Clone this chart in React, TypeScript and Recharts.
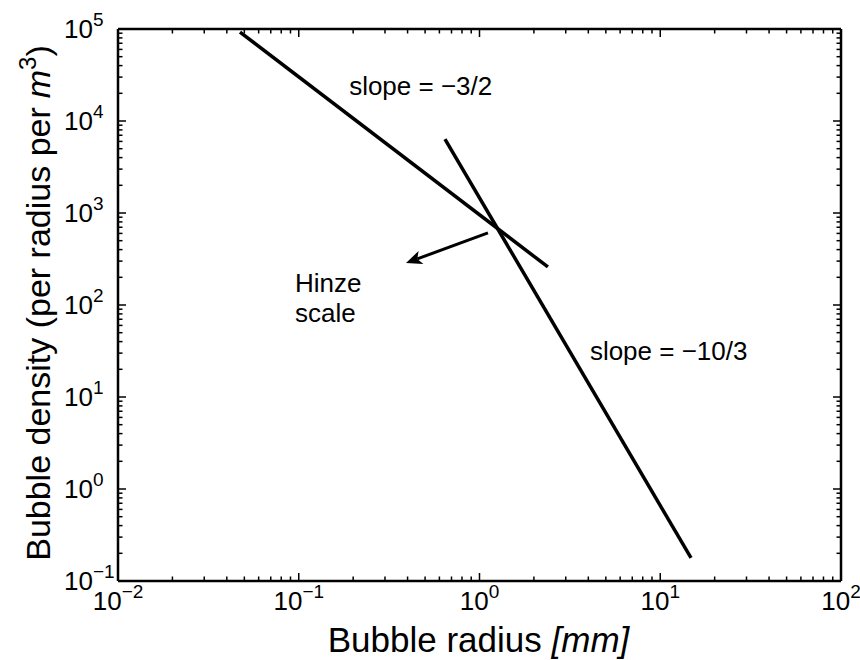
import React from 'react';
import { ComposedChart, Line, XAxis, YAxis, ReferenceLine, ReferenceDot } from 'recharts';

const FONT = '"Liberation Sans", Arial, Helvetica, sans-serif';

// Decade ticks and the exponents printed on them
const xDecades = [0.01, 0.1, 1, 10, 100];
const xExponents = ['−2', '−1', '0', '1', '2'];
const yDecades = [0.1, 1, 10, 100, 1000, 10000, 100000];
const yExponents = ['−1', '0', '1', '2', '3', '4', '5'];

// Power-law fit with slope -3/2 (bubble radius in mm, density per radius per m^3)
const smallRadius = [0.0473, 2.39];
const smallDensity = [92700, 259];

// Power-law fit with slope -10/3
const largeRadius = [0.644, 14.8];
const largeDensity = [6370, 0.178];

// Hinze scale arrow: tail near the crossing, head pointing to smaller radii
const hinzeArrowRadius = [1.114, 0.392];
const hinzeArrowDensity = [607, 286];

// Text annotations: [radius, density] anchor of the first baseline
const slopeSmallLabel = { text: 'slope = −3/2', radius: 0.19, density: 19200 };
const slopeLargeLabel = { text: 'slope = −10/3', radius: 4.08, density: 25.2 };
const hinzeLabel = { lines: ['Hinze', 'scale'], radius: 0.0953, density: 138 };

const smallFit = smallRadius.map((r, i) => ({ radius: r, density: smallDensity[i] }));
const largeFit = largeRadius.map((r, i) => ({ radius: r, density: largeDensity[i] }));

const minorTicks = (decades: number[]) => {
  const out: number[] = [];
  decades.forEach((d, i) => {
    out.push(d);
    if (i < decades.length - 1) for (let k = 2; k <= 9; k++) out.push(+(d * k).toPrecision(6));
  });
  return out;
};
const xTicks = minorTicks(xDecades);
const yTicks = minorTicks(yDecades);

const isDecade = (v: number) => Math.abs(Math.log10(v) - Math.round(Math.log10(v))) < 1e-6;
const expOf = (v: number, decades: number[], exps: string[]) => {
  const idx = decades.findIndex((d) => Math.abs(d - v) / d < 1e-6);
  return idx >= 0 ? exps[idx] : '';
};

const MAJOR = 8;
const MINOR = 4.5;
const TICK_W = 1.5;

const BottomTick = (props: any) => {
  const { x, y, payload } = props;
  const v = payload.value;
  const major = isDecade(v);
  return (
    <g>
      <line x1={x} x2={x} y1={y} y2={y - (major ? MAJOR : MINOR)} stroke="#000" strokeWidth={TICK_W} />
      {major && (
        <text x={x} y={y + 29} textAnchor="middle" fontFamily={FONT} fontSize={26} fill="#000">
          10
          <tspan dy={-12} fontSize={19}>{expOf(v, xDecades, xExponents)}</tspan>
        </text>
      )}
    </g>
  );
};

const TopTick = (props: any) => {
  const { x, y, payload } = props;
  const major = isDecade(payload.value);
  return <line x1={x} x2={x} y1={y} y2={y + (major ? MAJOR : MINOR)} stroke="#000" strokeWidth={TICK_W} />;
};

const LeftTick = (props: any) => {
  const { x, y, payload } = props;
  const v = payload.value;
  const major = isDecade(v);
  return (
    <g>
      <line x1={x} x2={x + (major ? MAJOR : MINOR)} y1={y} y2={y} stroke="#000" strokeWidth={TICK_W} />
      {major && (
        <g fontFamily={FONT} fill="#000">
          <text x={x - 25} y={y + 9} textAnchor="end" fontSize={26}>10</text>
          <text x={x - 25} y={y - 3} textAnchor="start" fontSize={19}>{expOf(v, yDecades, yExponents)}</text>
        </g>
      )}
    </g>
  );
};

const RightTick = (props: any) => {
  const { x, y, payload } = props;
  const major = isDecade(payload.value);
  return <line x1={x} x2={x - (major ? MAJOR : MINOR)} y1={y} y2={y} stroke="#000" strokeWidth={TICK_W} />;
};

const XTitle = (props: any) => {
  const vb = props.viewBox || {};
  const cx = vb.x + vb.width / 2;
  return (
    <text x={cx - 1} y={vb.y + 71} textAnchor="middle" fontFamily={FONT} fontSize={35} fill="#000">
      Bubble radius <tspan fontStyle="italic">[mm]</tspan>
    </text>
  );
};

const YTitle = (props: any) => {
  const vb = props.viewBox || {};
  const bx = 50;
  const cy = vb.y + vb.height / 2 - 2;
  return (
    <text
      x={bx}
      y={cy}
      transform={`rotate(-90, ${bx}, ${cy})`}
      textAnchor="middle"
      fontFamily={FONT}
      fontSize={34}
      fill="#000"
    >
      Bubble density (per radius per
      <tspan dx={9} fontStyle="italic">m</tspan>
      <tspan dy={-14} fontSize={24}>3</tspan>
      <tspan dy={14}>)</tspan>
    </text>
  );
};

const Arrow = (props: any) => {
  const { x1, y1, x2, y2 } = props;
  const ang = Math.atan2(y2 - y1, x2 - x1);
  const L = 16;
  const W = 7;
  const c = Math.cos(ang);
  const s = Math.sin(ang);
  const bx = x2 - L * c;
  const by = y2 - L * s;
  const px = -s * W;
  const py = c * W;
  const nx = bx + 4 * c;
  const ny = by + 4 * s;
  return (
    <g>
      <line x1={x1} y1={y1} x2={nx} y2={ny} stroke="#000" strokeWidth={3} />
      <polygon points={`${x2},${y2} ${bx + px},${by + py} ${nx},${ny} ${bx - px},${by - py}`} fill="#000" />
    </g>
  );
};

const textShape = (lines: string[]) => (p: any) => (
  <text x={p.cx} y={p.cy} fontFamily={FONT} fontSize={26} fill="#000">
    {lines.map((s, i) => (
      <tspan key={i} x={p.cx} dy={i === 0 ? 0 : 30}>{s}</tspan>
    ))}
  </text>
);

export default function App() {
  return (
    <div style={{ position: 'absolute', left: 0, top: 0, background: '#fff' }}>
      <ComposedChart width={860} height={660} margin={{ top: 28, right: 18, bottom: 0, left: 0 }}>
        <XAxis
          dataKey="radius"
          type="number"
          scale="log"
          domain={[0.01, 100]}
          allowDataOverflow
          ticks={xTicks}
          interval={0}
          tickSize={0}
          tickMargin={0}
          tick={<BottomTick />}
          axisLine={{ stroke: '#000', strokeWidth: 2.5 }}
          height={79}
          label={<XTitle />}
        />
        <XAxis
          xAxisId="top"
          orientation="top"
          dataKey="radius"
          type="number"
          scale="log"
          domain={[0.01, 100]}
          allowDataOverflow
          ticks={xTicks}
          interval={0}
          tickSize={0}
          tickMargin={0}
          tick={<TopTick />}
          axisLine={{ stroke: '#000', strokeWidth: 2.5 }}
          height={1}
        />
        <YAxis
          type="number"
          scale="log"
          domain={[0.1, 100000]}
          allowDataOverflow
          ticks={yTicks}
          interval={0}
          tickSize={0}
          tickMargin={0}
          tick={<LeftTick />}
          axisLine={{ stroke: '#000', strokeWidth: 2.5 }}
          width={118}
          label={<YTitle />}
        />
        <YAxis
          yAxisId="right"
          orientation="right"
          type="number"
          scale="log"
          domain={[0.1, 100000]}
          allowDataOverflow
          ticks={yTicks}
          interval={0}
          tickSize={0}
          tickMargin={0}
          tick={<RightTick />}
          axisLine={{ stroke: '#000', strokeWidth: 2.5 }}
          width={1}
        />
        <Line data={smallFit} dataKey="density" stroke="#000" strokeWidth={3.5} dot={false} isAnimationActive={false} />
        <Line data={largeFit} dataKey="density" stroke="#000" strokeWidth={3.5} dot={false} isAnimationActive={false} />
        <ReferenceLine
          segment={[
            { x: hinzeArrowRadius[0], y: hinzeArrowDensity[0] },
            { x: hinzeArrowRadius[1], y: hinzeArrowDensity[1] },
          ]}
          shape={(p: any) => <Arrow {...p} />}
        />
        <ReferenceDot x={slopeSmallLabel.radius} y={slopeSmallLabel.density} r={0} shape={textShape([slopeSmallLabel.text])} />
        <ReferenceDot x={slopeLargeLabel.radius} y={slopeLargeLabel.density} r={0} shape={textShape([slopeLargeLabel.text])} />
        <ReferenceDot x={hinzeLabel.radius} y={hinzeLabel.density} r={0} shape={textShape(hinzeLabel.lines)} />
      </ComposedChart>
    </div>
  );
}
